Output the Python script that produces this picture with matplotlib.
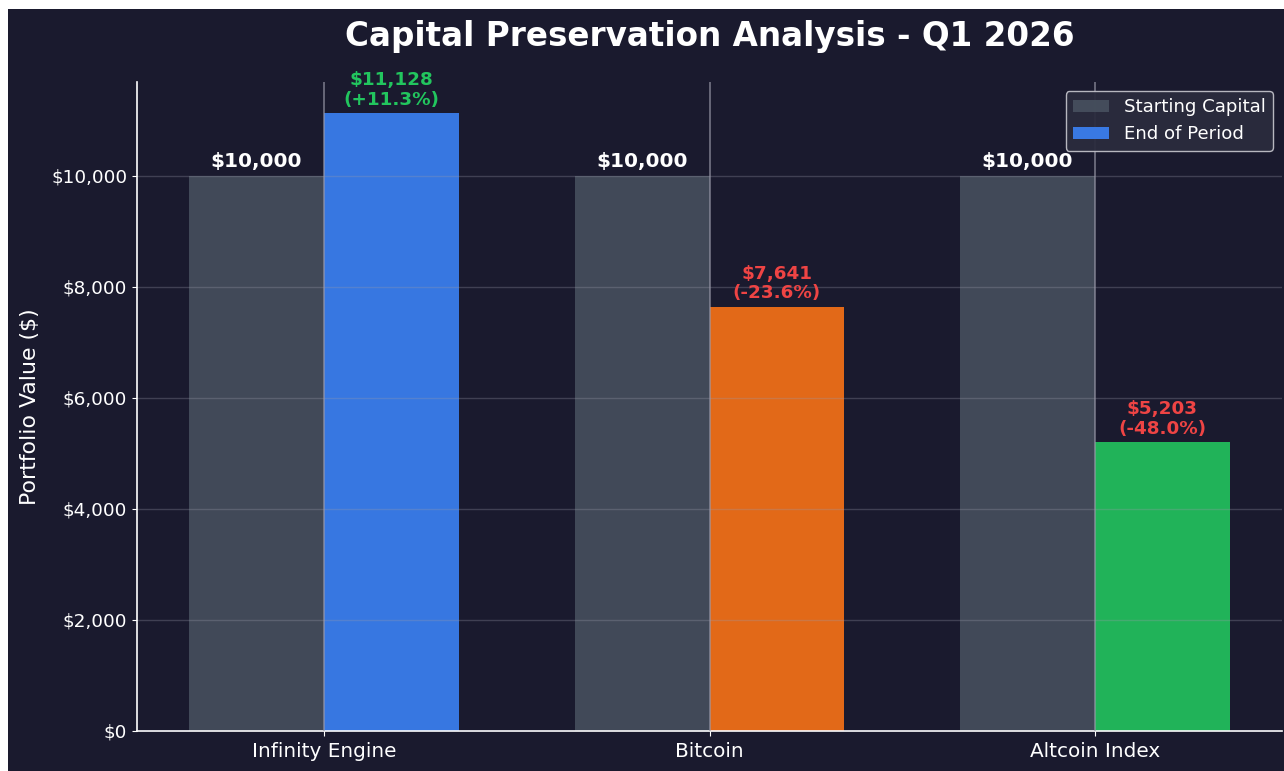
import matplotlib
matplotlib.use("Agg")
import matplotlib.pyplot as plt
from matplotlib.patches import Rectangle
from matplotlib.ticker import FuncFormatter
import numpy as np

# data
categories = ["Infinity Engine", "Bitcoin", "Altcoin Index"]
start_values = [10000, 10000, 10000]
end_values = [11128, 7641, 5203]
pct_changes = [11.3, -23.6, -48.0]
end_colors = ["#3b82f6", "#f97316", "#22c55e"]

BG = "#1a1a2e"
GREEN = "#22c55e"
RED = "#ef4444"

fig = plt.figure(figsize=(12.84, 7.71), dpi=100, facecolor="white")
# dark panel (reference has a thin white strip at top/left)
fig.patches.append(Rectangle((8 / 1284, -0.01), 1.1, (771 - 9) / 771 + 0.01,
                             transform=fig.transFigure, facecolor=BG,
                             edgecolor="none", zorder=-10))

ax = fig.add_axes([137 / 1284, (771 - 731) / 771, (1282 - 137) / 1284, (731 - 82) / 771])
ax.set_facecolor(BG)

x = np.arange(len(categories))
width = 0.35

ax.bar(x - width / 2, start_values, width, color="#4b5563", alpha=0.8,
       label="Starting Capital")
bars = ax.bar(x + width / 2, end_values, width, color=end_colors, alpha=0.9,
              label="End of Period")

for i in range(len(categories)):
    ax.annotate(f"${start_values[i]:,.0f}", (x[i] - width / 2, start_values[i]),
                xytext=(0, 3), textcoords="offset points", ha="center", va="bottom",
                color="white", fontsize=14.5, fontweight="bold")
    c = GREEN if pct_changes[i] >= 0 else RED
    ax.annotate(f"${end_values[i]:,.0f}\n({pct_changes[i]:+.1f}%)",
                (x[i] + width / 2, end_values[i]),
                xytext=(0, 3), textcoords="offset points", ha="center", va="bottom",
                color=c, fontsize=13.2, fontweight="bold", linespacing=1.1)

ax.set_ylim(0, max(end_values) * 1.05)
ax.yaxis.set_major_formatter(FuncFormatter(lambda v, p: f"${v:,.0f}"))
ax.set_xticks(x)
ax.set_xticklabels(categories, fontsize=14.4, color="white")
ax.tick_params(axis="y", labelsize=13.3, colors="white")
ax.tick_params(axis="x", colors="white", pad=4.5)
ax.set_ylabel("Portfolio Value ($)", fontsize=15.8, color="white", labelpad=8)
ax.set_title("Capital Preservation Analysis - Q1 2026", fontsize=23.5,
             fontweight="bold", color="white", pad=26)

for s in ["top", "right"]:
    ax.spines[s].set_visible(False)
for s in ["left", "bottom"]:
    ax.spines[s].set_color("white")
    ax.spines[s].set_linewidth(1.2)

ax.yaxis.grid(True, color="#9a9aaa", alpha=0.3, linewidth=1)
ax.xaxis.grid(True, color="#9a9aaa", alpha=0.7, linewidth=1.2)
ax.set_axisbelow(False)

leg = ax.legend(loc="upper right", fontsize=13.1, facecolor="#2a2b3d",
                edgecolor="#c0c0c8", labelcolor="white", framealpha=0.95)

fig.savefig("out.png", dpi=100, facecolor=fig.get_facecolor())
